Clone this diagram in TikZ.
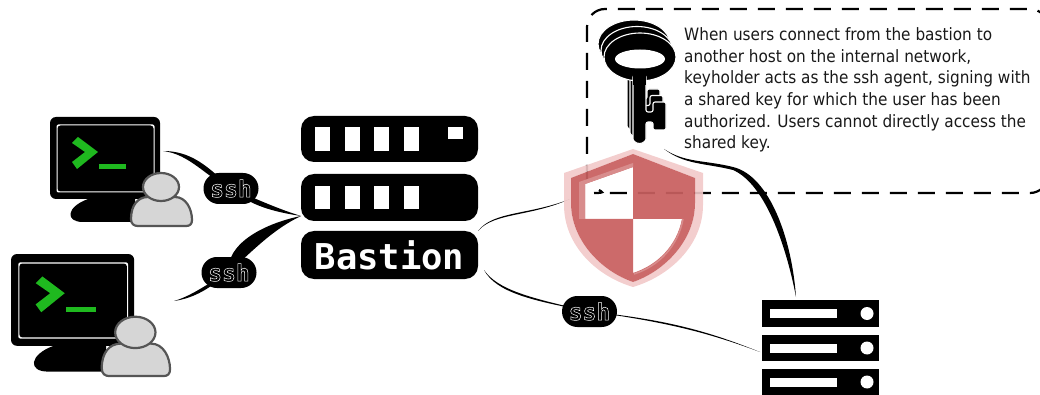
\documentclass[tikz,border=0pt]{standalone}
\usepackage{fontspec}
\setmainfont{DejaVu Sans}
\setmonofont{DejaVu Sans Mono}
\newfontfamily\notefont{DejaVu Sans}[FakeStretch=0.9]
\usetikzlibrary{backgrounds}

\definecolor{termgreen}{HTML}{1FB91F}
\definecolor{usergray}{HTML}{D6D6D6}
\definecolor{useredge}{HTML}{555555}
\definecolor{shieldred}{HTML}{C85F5F}
\definecolor{shieldpale}{HTML}{F2C9C9}
\definecolor{shieldband}{HTML}{D88C8C}

\newcommand{\outlinedtext}[1]{\special{pdf:code 1 Tr 0.5 w}#1\special{pdf:code 0 Tr}}

\begin{document}
\begin{tikzpicture}[
    x=1pt, y=-1pt,
    % 1. Core Shapes
    rack/.style={fill=black, rounded corners=13pt, minimum width=177pt, inner sep=0pt},
    sshpill/.style={fill=black, rounded corners=15.4pt, minimum width=55pt, minimum height=31pt, inner sep=0pt, text=white, font=\ttfamily\bfseries\fontsize{23}{23}\selectfont},
    srv/.style={fill=black, minimum width=117pt, minimum height=26.5pt, inner sep=0pt},
    note/.style={anchor=north west, inner sep=0pt, align=left, text=black!90, font=\notefont\fontsize{17}{21.67}\selectfont},
    % 2. Routing
    taper/.style={fill=black, draw=none},
    boxline/.style={line width=2.2pt, dash pattern=on 17pt off 11pt, rounded corners=18pt},
    % 3. Repeated Pictures
    terminal/.pic={
        \fill[black, rounded corners=6pt] (0,0) rectangle (110,82);
        \fill[white, rounded corners=2pt] (6.5,7.5) rectangle (104.5,75.5);
        \fill[black, rounded corners=3pt] (7.5,8.5) rectangle (103.5,74.5);
        \fill[termgreen] (22,26) -- (28,20) -- (48,35) -- (27,52) -- (22,45) -- (35,35) -- cycle;
        \fill[termgreen] (49,47) rectangle (76,52);
        \fill[black] (38,82) -- (85,82) -- (85,105) -- (33,105) .. controls (15,105) and (16,90) .. (38,82) -- cycle;
        \draw[line width=2.2pt, draw=useredge, fill=usergray] (81,102) .. controls (81,88) and (88,80) .. (98,80) -- (125,80) .. controls (136,80) and (142,92) .. (142,103) .. controls (142,107) and (140,109) .. (136,109) -- (88,109) .. controls (84,109) and (81,107) .. (81,102) -- cycle;
        \draw[line width=2.2pt, draw=useredge, fill=usergray] (111,70) ellipse [x radius=18, y radius=14];
    },
    keyblade/.pic={
        \fill[black, draw=white, line width=1.1pt] (640,57) ellipse [x radius=36, y radius=24];
        \fill[black, draw=white, line width=1.1pt, rounded corners=2pt] (653,102) -- (666,102) -- (666,130) -- (653,130) -- (653,122) -- (646,122) -- (646,137) arc [start angle=0, end angle=180, radius=6.5] -- (633,75) -- (646,75) -- (646,112) -- (653,112) -- cycle;
        \fill[black] (633,70) rectangle (646,85);
    }
]
\useasboundingbox (0,0) rectangle (1040,395);

% ===============================
% Note Box and Key
% ===============================
\draw[boxline] (587,182) -- (587,9) -- (1048,9) -- (1048,100);
\draw[boxline] (599,190) .. controls (602,192) and (606,193) .. (612,193) -- (1048,193) -- (1048,100);

\node[note] (keynote) at (684,27.5) {When users connect from the bastion to\\another host on the internal network,\\keyholder acts as the ssh agent, signing with\\a shared key for which the user has been\\authorized. Users cannot directly access the\\shared key.};

\pic at (-6,-13) {keyblade};
\pic at (-3,-6.5) {keyblade};
\pic at (0,0) {keyblade};
\fill[white] (640,59) ellipse [x radius=25, y radius=9.5];

% ===============================
% Shield
% ===============================
\fill[shieldpale, opacity=0.9, even odd rule] (633,149) -- (703,173) -- (703,205) .. controls (703,245) and (670,276) .. (633,287) .. controls (596,276) and (564,245) .. (564,205) -- (564,173) -- cycle
    (633,154) -- (695,178) -- (695,203) .. controls (695,240) and (665,271) .. (633,282) .. controls (601,271) and (571,240) .. (571,203) -- (571,178) -- cycle;
\fill[shieldred, opacity=0.93, even odd rule] (633,154) -- (695,178) -- (695,203) .. controls (695,240) and (665,271) .. (633,282) .. controls (601,271) and (571,240) .. (571,203) -- (571,178) -- cycle
    (585,184) -- (633,167) -- (633,219) -- (585,219) -- cycle
    (633,219) -- (682,219) .. controls (677,245) and (658,265) .. (633,273) -- cycle;
\fill[shieldband] (579,182) -- (633,163) -- (633,167) -- (585,184) -- (585,219) -- (579,219) -- cycle;
\draw[shieldband, line width=1.5pt] (683,219) .. controls (678,246) and (659,266) .. (634,274);

% ===============================
% Users
% ===============================
\pic at (50,117) {terminal};
\pic[scale=1.12] at (11,254) {terminal};

% ===============================
% Bastion and Servers
% ===============================
\node[rack, minimum height=46pt] (rack1) at (389.5,139) {};
\node[rack, minimum height=47pt] (rack2) at (389.5,197.5) {};
\node[rack, minimum height=48pt, text=white, font=\ttfamily\bfseries\fontsize{35.5}{35.5}\selectfont] (bastion) at (389.5,255) {Bastion};

\foreach \sx in {315,345,374,404} {
    \fill[white] (\sx,127) rectangle ++(15,24);
    \fill[white] (\sx,186) rectangle ++(15,23);
}
\fill[white] (448,127) rectangle (463,139);

\node[srv] (srv1) at (820.5,313.5) {};
\node[srv] (srv2) at (820.5,348) {};
\node[srv] (srv3) at (820.5,382) {};
\foreach \sy in {313.5,348,382} {
    \fill[white] (770,\sy-4.5) rectangle (837,\sy+4.5);
    \fill[white] (867,\sy) circle (6.5);
}

\node[sshpill] (ssh1) at (231,188.5) {\outlinedtext{ssh}};
\node[sshpill] (ssh2) at (229,272.5) {\outlinedtext{ssh}};
\node[sshpill] (ssh3) at (589.5,311.5) {\outlinedtext{ssh}};

% Free Connector Ends
\coordinate (term1out) at (163,151);
\coordinate (term2out) at (174,301);
\coordinate (rackin) at (301,216);
\coordinate (bastout) at (484,270);
\coordinate (shieldin) at (570,199);
\coordinate (keyout) at (664,149);
\coordinate (srvtop) at (796,297);
\coordinate (srvleft) at (760,352);

% ===============================
% Tapered Links
% ===============================
\begin{scope}[on background layer]
    \fill[taper] (term1out) .. controls (190,151) and (207,165) .. (ssh1.center) .. controls (207,178) and (190,154) .. (term1out);
    \fill[taper] (ssh1.center) .. controls (250,196) and (275,208) .. (rackin) .. controls (275,212) and (250,206) .. (ssh1.center);
    \fill[taper] (term2out) .. controls (195,298) and (210,288) .. (ssh2.center) .. controls (215,278) and (195,295) .. (term2out);
    \fill[taper] (ssh2.center) .. controls (225,245) and (262,224) .. (rackin) .. controls (276,228) and (258,245) .. (ssh2.center);
    \fill[taper] (bastion.north east) .. controls (493,211) and (530,215) .. (shieldin) .. controls (530,217) and (494,212.5) .. (bastion.north east);
    \fill[taper] (bastout) .. controls (498,290) and (530,298) .. (ssh3.center) .. controls (530,300.5) and (496,292) .. (bastout);
    \fill[taper] (ssh3.center) .. controls (670,320) and (710,332) .. (srvleft) .. controls (710,333.5) and (670,322.5) .. (ssh3.center);
    \fill[taper] (keyout) .. controls (685,163) and (705,160) .. (733,167) .. controls (770,176) and (792,240) .. (srvtop) .. controls (786,245) and (765,184) .. (733,170) .. controls (705,163) and (685,165) .. (keyout);
\end{scope}

\end{tikzpicture}
\end{document}
